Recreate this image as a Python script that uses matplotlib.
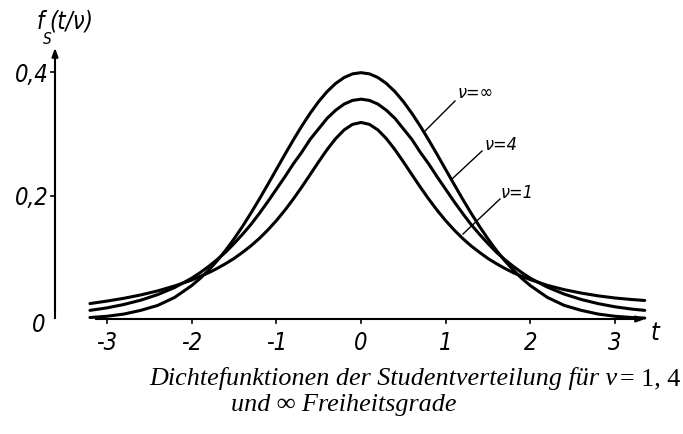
import matplotlib
matplotlib.use('Agg')
import matplotlib.pyplot as plt
from matplotlib import font_manager as fm

# abscissa t and the three densities
t_vals = [-3.2, -3.0, -2.8, -2.6, -2.4, -2.2,
          -2.0, -1.9, -1.8, -1.7, -1.6, -1.5, -1.4, -1.3, -1.2, -1.1, -1.0,
          -0.9, -0.8, -0.7, -0.6, -0.5, -0.4, -0.3, -0.2, -0.1, 0.0,
          0.1, 0.2, 0.3, 0.4, 0.5, 0.6, 0.7, 0.8, 0.9, 1.0,
          1.1, 1.2, 1.3, 1.4, 1.5, 1.6, 1.7, 1.8, 1.9, 2.0,
          2.2, 2.4, 2.6, 2.8, 3.0, 3.2, 3.35]
f_inf = [0.0024, 0.0044, 0.008, 0.014, 0.022, 0.035,
         0.054, 0.0656, 0.079, 0.094, 0.1109, 0.1295, 0.1497, 0.1714, 0.1942, 0.2179, 0.242,
         0.2661, 0.2897, 0.3123, 0.3332, 0.3521, 0.3683, 0.3814, 0.391, 0.397, 0.3989,
         0.397, 0.391, 0.3814, 0.3683, 0.3521, 0.3332, 0.3123, 0.2897, 0.2661, 0.242,
         0.2179, 0.1942, 0.1714, 0.1497, 0.1295, 0.1109, 0.094, 0.079, 0.0656, 0.054,
         0.035, 0.022, 0.014, 0.008, 0.0044, 0.0024, 0.0015]
f_4 = [0.0140, 0.0180, 0.0235, 0.0305, 0.0395, 0.0510,
       0.066, 0.075, 0.085, 0.096, 0.108, 0.122, 0.137, 0.153, 0.171, 0.190, 0.210,
       0.230, 0.251, 0.270, 0.291, 0.308, 0.325, 0.338, 0.348, 0.354, 0.356,
       0.354, 0.348, 0.338, 0.325, 0.308, 0.291, 0.270, 0.251, 0.230, 0.210,
       0.190, 0.171, 0.153, 0.137, 0.122, 0.108, 0.096, 0.085, 0.075, 0.066,
       0.0516, 0.0403, 0.0316, 0.0249, 0.0197, 0.0160, 0.0140]
f_1 = [0.0250, 0.0290, 0.0335, 0.0390, 0.0455, 0.0535,
       0.0630, 0.0690, 0.0748, 0.0818, 0.0895, 0.0979, 0.1078, 0.1184, 0.1305, 0.1441, 0.1592,
       0.1759, 0.1941, 0.2136, 0.2340, 0.2546, 0.2744, 0.2920, 0.3061, 0.3152, 0.3183,
       0.3152, 0.3061, 0.2920, 0.2744, 0.2546, 0.2340, 0.2136, 0.1941, 0.1759, 0.1592,
       0.1441, 0.1305, 0.1184, 0.1078, 0.0979, 0.0895, 0.0818, 0.0748, 0.0690, 0.0637,
       0.0545, 0.0475, 0.0420, 0.0375, 0.0340, 0.0315, 0.0300]
x_ticks = [-3, -2, -1, 0, 1, 2, 3]
y_ticks = [0.2, 0.4]
y_ticklabels = ['0,2', '0,4']

W, H = 683, 435
x0, sx = 361, 84.7      # pixel of t=0, pixels per unit t
y0, sy = 320, 617.5     # pixel of f=0, pixels per unit f


def tx(px):
    return (px - x0) / sx


def fy(py):
    return (y0 - py) / sy


# a condensed sans for the axis lettering, if one is there
cond = fm.FontProperties(family='DejaVu Sans', stretch='condensed', style='italic')
if 'Condensed' in fm.findfont(cond, fallback_to_default=True):
    lab_font = dict(family=['DejaVu Sans'], stretch='condensed', style='italic')
else:
    lab_font = dict(family=['Liberation Sans', 'DejaVu Sans'], style='italic')
serif = ['Liberation Serif', 'DejaVu Serif']

fig = plt.figure(figsize=(W / 100, H / 100), dpi=100)
ax = fig.add_axes([0, 0, 1, 1])
ax.set_xlim(tx(0), tx(W))
ax.set_ylim(fy(H), fy(0))
ax.axis('off')

for f in [f_inf, f_4, f_1]:
    ax.plot(t_vals, f, color='black', lw=2.2, solid_capstyle='round', solid_joinstyle='round')

# axes with arrows
ax.annotate('', xy=(tx(648), 0), xytext=(tx(93), 0),
            arrowprops=dict(arrowstyle='-|>,head_length=0.5,head_width=0.18', color='black', lw=1.5))
ax.annotate('', xy=(tx(55), fy(46)), xytext=(tx(55), fy(322)),
            arrowprops=dict(arrowstyle='-|>,head_length=0.5,head_width=0.18', color='black', lw=1.5))

for xt in x_ticks:
    ax.plot([xt, xt], [0, fy(y0 + 4)], color='black', lw=1.2)
    ax.text(xt, fy(343), str(xt), ha='center', va='center', fontsize=17, **lab_font)
for yt, lab in zip(y_ticks, y_ticklabels):
    ax.plot([tx(51), tx(55)], [yt, yt], color='black', lw=1.2)
    ax.text(tx(49), yt - 0.003, lab, ha='right', va='center', fontsize=17, **lab_font)
ax.text(tx(45), fy(325), '0', ha='right', va='center', fontsize=17, **lab_font)

ax.text(tx(655), fy(333), 't', ha='center', va='center', fontsize=18, **lab_font)
fig.text(37 / W, 1 - 22 / H, 'f', ha='left', va='center', fontsize=17, **lab_font)
fig.text(43 / W, 1 - 39 / H, 'S', ha='left', va='center', fontsize=11, **lab_font)
fig.text(49 / W, 1 - 22 / H, '(t/ν)', ha='left', va='center', fontsize=17, **lab_font)

# curve labels with leader lines
labels = [('ν=∞', 458, 93, (455, 102), (425, 132)),
          ('ν=4', 485, 145, (482, 152), (452, 180)),
          ('ν=1', 501, 193, (500, 200), (463, 235))]
for lab, lx, ly, p1, p2 in labels:
    ax.plot([tx(p1[0]), tx(p2[0])], [fy(p1[1]), fy(p2[1])], color='black', lw=1.0)
    ax.text(tx(lx), fy(ly), lab, ha='left', va='center', fontsize=13, **lab_font)

# caption
c1 = fig.text(149 / W, 1 - 379 / H, 'Dichtefunktionen der Studentverteilung für v', ha='left', va='center',
              fontsize=18.8, family=serif, style='italic')
fig.canvas.draw()
bb = c1.get_window_extent()
fig.text(bb.x1 / W + 0.004, 1 - 379 / H, '= 1, 4', ha='left', va='center', fontsize=18.8, family=serif)
fig.text(231 / W, 1 - 405 / H, 'und ∞ Freiheitsgrade', ha='left', va='center',
         fontsize=18.8, family=serif, style='italic')

fig.savefig('out.png', dpi=100, facecolor='white')
